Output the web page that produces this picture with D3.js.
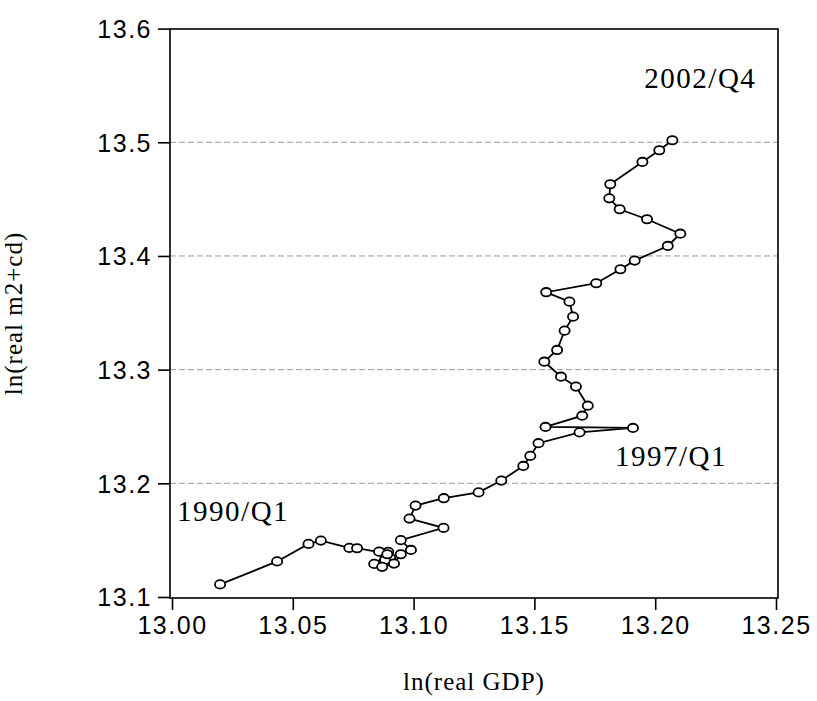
<!DOCTYPE html>
<html>
<head>
<meta charset="utf-8">
<script src="https://cdn.jsdelivr.net/npm/d3@7"></script>
<style>
  html, body { margin: 0; padding: 0; background: #fff; }
  svg { display: block; }
</style>
</head>
<body>
<svg id="chart" width="817" height="701"></svg>
<script>
// Quarterly observations 1990/Q1 .. 2002/Q4
const lnGDP = [
  13.0199, 13.0435, 13.0565, 13.0616, 13.0734, 13.0766, 13.0874, 13.0903,
  13.0882, 13.0895, 13.0857, 13.0891, 13.0837, 13.0870, 13.0919, 13.0947,
  13.0989, 13.0947, 13.1124, 13.0983, 13.1008, 13.1125, 13.1269, 13.1363,
  13.1454, 13.1483, 13.1517, 13.1687, 13.1908, 13.1546, 13.1698, 13.1721,
  13.1672, 13.1610, 13.1541, 13.1594, 13.1625, 13.1660, 13.1645, 13.1549,
  13.1756, 13.1856, 13.1915, 13.2052, 13.2104, 13.1966, 13.1853, 13.1810,
  13.1814, 13.1947, 13.2017, 13.2071
];
const lnM2cd = [
  13.1111, 13.1313, 13.1467, 13.1496, 13.1432, 13.1429, 13.1388, 13.1344,
  13.1326, 13.1397, 13.1399, 13.1376, 13.1291, 13.1265, 13.1294, 13.1376,
  13.1414, 13.1500, 13.1608, 13.1690, 13.1804, 13.1869, 13.1920, 13.2024,
  13.2153, 13.2241, 13.2353, 13.2448, 13.2487, 13.2496, 13.2595, 13.2683,
  13.2851, 13.2938, 13.3070, 13.3173, 13.3343, 13.3466, 13.3598, 13.3681,
  13.3760, 13.3883, 13.3959, 13.4088, 13.4196, 13.4323, 13.4411, 13.4507,
  13.4631, 13.4827, 13.4930, 13.5018
];
const xTicks = [13.00, 13.05, 13.10, 13.15, 13.20, 13.25];
const yTicks = [13.1, 13.2, 13.3, 13.4, 13.5, 13.6];
const gridLevels = [13.2, 13.3, 13.4, 13.5];
const pointLabels = [
  { text: "1990/Q1", index: 0 },
  { text: "1997/Q1", index: 28 },
  { text: "2002/Q4", index: 51 }
];

const svg = d3.select("#chart");
const frame = { left: 170, right: 778, top: 29, bottom: 598 };

const x = d3.scaleLinear().domain([13.00, 13.25]).range([172, 776]);
const y = d3.scaleLinear().domain([13.1, 13.6]).range([597, 28.6]);

// dashed horizontal reference lines
svg.append("g").selectAll("line").data(gridLevels).join("line")
  .attr("x1", frame.left).attr("x2", frame.right)
  .attr("y1", d => y(d)).attr("y2", d => y(d))
  .attr("stroke", "#9a9a9a").attr("stroke-width", 1)
  .attr("stroke-dasharray", "6,3");

// plot frame
svg.append("rect")
  .attr("x", frame.left).attr("y", frame.top)
  .attr("width", frame.right - frame.left).attr("height", frame.bottom - frame.top)
  .attr("fill", "none").attr("stroke", "#000").attr("stroke-width", 1.6);

// axes
const sans = "'Liberation Sans', Arial, sans-serif";
const xAxis = d3.axisBottom(x).tickValues(xTicks).tickFormat(d3.format(".2f"))
  .tickSize(12).tickSizeOuter(0);
const gx = svg.append("g").attr("transform", `translate(0,${frame.bottom})`).call(xAxis);
gx.select(".domain").remove();
gx.selectAll(".tick line").attr("stroke", "#000").attr("stroke-width", 1.6);
gx.selectAll(".tick text")
  .attr("y", 18).attr("dy", "0.71em")
  .style("font-family", sans)
  .style("font-size", "25px").style("letter-spacing", "1.5px")
  .attr("fill", "#000");

const yAxis = d3.axisLeft(y).tickValues(yTicks).tickFormat(d3.format(".1f"))
  .tickSize(12).tickSizeOuter(0);
const gy = svg.append("g").attr("transform", `translate(${frame.left},0)`).call(yAxis);
gy.select(".domain").remove();
gy.selectAll(".tick line").attr("stroke", "#000").attr("stroke-width", 1.6);
gy.selectAll(".tick text")
  .attr("x", -18).attr("dy", "0.35em")
  .style("font-family", sans)
  .style("font-size", "25px").style("letter-spacing", "1.5px")
  .attr("fill", "#000");

// connected path through the quarters
const pts = lnGDP.map((v, i) => [v, lnM2cd[i]]);
const line = d3.line().x(d => x(d[0])).y(d => y(d[1]));
svg.append("path").datum(pts)
  .attr("d", line).attr("fill", "none")
  .attr("stroke", "#000").attr("stroke-width", 1.8);

svg.append("g").selectAll("ellipse").data(pts).join("ellipse")
  .attr("cx", d => x(d[0])).attr("cy", d => y(d[1]))
  .attr("rx", 5.1).attr("ry", 4.2)
  .attr("fill", "#fff").attr("stroke", "#000").attr("stroke-width", 1.8);

// period annotations
const serif = "'Liberation Serif', 'Times New Roman', serif";
const labelOffsets = { "1990/Q1": [-43, -63], "1997/Q1": [-18, 38], "2002/Q4": [-28, -52] };
svg.append("g").selectAll("text").data(pointLabels).join("text")
  .attr("x", d => x(lnGDP[d.index]) + labelOffsets[d.text][0])
  .attr("y", d => y(lnM2cd[d.index]) + labelOffsets[d.text][1])
  .text(d => d.text)
  .style("font-family", serif).style("font-size", "29px")
  .style("letter-spacing", "1.5px").attr("fill", "#000");

// axis titles
svg.append("text")
  .attr("x", (frame.left + frame.right) / 2).attr("y", 690)
  .attr("text-anchor", "middle")
  .style("font-family", serif).style("font-size", "25px").style("letter-spacing", "1px")
  .text("ln(real GDP)");

svg.append("text")
  .attr("transform", `translate(22,${(frame.top + frame.bottom) / 2}) rotate(-90)`)
  .attr("text-anchor", "middle")
  .style("font-family", serif).style("font-size", "25px").style("letter-spacing", "1px")
  .text("ln(real m2+cd)");
</script>
</body>
</html>
